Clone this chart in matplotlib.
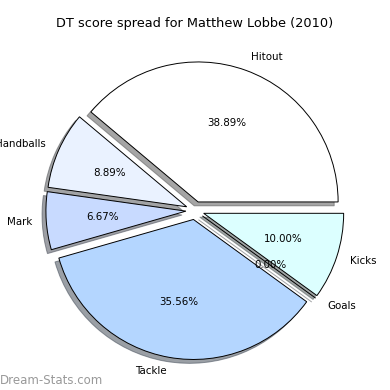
import matplotlib
matplotlib.use("Agg")
import matplotlib.pyplot as plt

labels = ["Hitout", "Handballs", "Mark", "Tackle", "Goals", "Kicks"]
values = [38.89, 8.89, 6.67, 35.56, 0.00, 10.00]
colors = ["#ffffff", "#eaf2ff", "#c8daff", "#b4d6ff", "#e0f0ff", "#dcffff"]
explode = [0.065] * len(values)
title = "DT score spread for Matthew Lobbe (2010)"
watermark = "Dream-Stats.com"

fig = plt.figure(figsize=(3.9, 3.9), dpi=100)
W = H = 390.0
cx, cy, r = 195.0, 210.5, 140.0
span = 2.5 * r
ax = fig.add_axes([(cx - span / 2) / W, (H - cy - span / 2) / H, span / W, span / H])

wedges, texts, autotexts = ax.pie(
    values, labels=labels, colors=colors, explode=explode,
    autopct="%1.2f%%", startangle=0, shadow=True,
    labeldistance=1.1, pctdistance=0.6,
    wedgeprops={"edgecolor": "black", "linewidth": 0.7},
    textprops={"fontsize": 7.4},
)
ax.set_xlim(-1.25, 1.25)
ax.set_ylim(-1.25, 1.25)

fig.text(0.5, 1 - 24 / H, title, ha="center", va="center", fontsize=9.3)
fig.text(0.0, 1 - 380 / H, watermark, ha="left", va="center", fontsize=8.5,
         color="#999999")

fig.savefig("out.png", dpi=100)
